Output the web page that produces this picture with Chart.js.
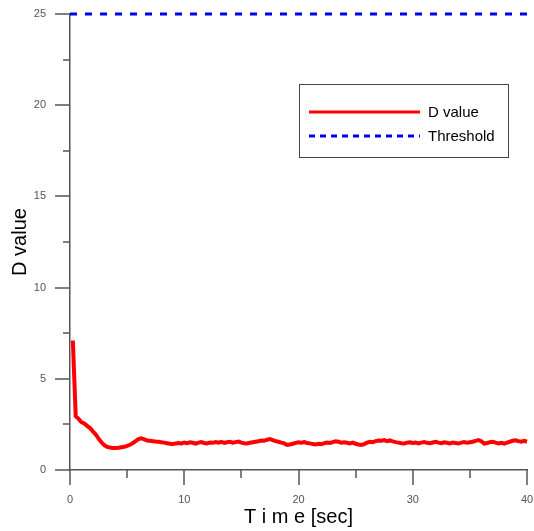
<!DOCTYPE html>
<html>
<head>
<meta charset="utf-8">
<script src="https://cdn.jsdelivr.net/npm/chart.js@4.4.1/dist/chart.umd.min.js"></script>
<style>
  body { margin: 0; background: #fff; }
</style>
</head>
<body>
<canvas id="dChart" width="534" height="531"></canvas>
<script>
// sampled every 0.25 s, first sample at 0.25 s
var startTime = 0.25;
var sampleStep = 0.25;
var dValue = [
  7.1, 2.95, 2.8, 2.62, 2.55, 2.42, 2.3, 2.12, 1.95, 1.72, 1.52,
  1.36, 1.27, 1.23, 1.2, 1.21, 1.22, 1.25, 1.27, 1.32, 1.38, 1.48,
  1.58, 1.7, 1.74, 1.68, 1.62, 1.6, 1.58, 1.56, 1.55, 1.52, 1.5,
  1.47, 1.44,
  1.42, 1.45, 1.48, 1.46,
  1.50, 1.47, 1.52, 1.49,
  1.45, 1.50, 1.53, 1.48,
  1.46, 1.51, 1.49, 1.53,
  1.50, 1.54, 1.49, 1.52,
  1.55, 1.50, 1.53, 1.56,
  1.50, 1.47, 1.45, 1.49,
  1.52, 1.55, 1.58, 1.62,
  1.60, 1.66, 1.70, 1.64,
  1.58, 1.55, 1.50, 1.46,
  1.38, 1.40, 1.44, 1.49,
  1.52, 1.50, 1.53, 1.48,
  1.46, 1.42, 1.40, 1.44,
  1.41, 1.47, 1.50, 1.48,
  1.53, 1.57, 1.55, 1.50,
  1.52, 1.49, 1.46, 1.50,
  1.44, 1.40, 1.37, 1.42,
  1.50, 1.55, 1.52, 1.58,
  1.62, 1.60, 1.64, 1.58,
  1.62, 1.57, 1.53, 1.50,
  1.47, 1.45, 1.50, 1.52,
  1.48, 1.51, 1.46, 1.50,
  1.53, 1.49, 1.47, 1.51,
  1.55, 1.50, 1.47, 1.52,
  1.49, 1.46, 1.50, 1.48,
  1.45, 1.50, 1.53, 1.49,
  1.52, 1.55, 1.60, 1.64,
  1.58, 1.45, 1.48, 1.52,
  1.55, 1.50, 1.46, 1.49,
  1.45, 1.50, 1.55, 1.60,
  1.63, 1.58, 1.55, 1.60,
  1.55
];
var thresholdValue = 25;
var timeRange = [0, 40];
var yRange = [0, 25];
var seriesNames = ["D value", "Threshold"];

var dPoints = dValue.map(function (v, i) {
  return { x: startTime + i * sampleStep, y: v };
});
var thresholdPoints = [
  { x: timeRange[0], y: thresholdValue },
  { x: timeRange[1], y: thresholdValue }
];

var axisColor = "#555";
var font = "'Liberation Sans', Arial, sans-serif";

// keep the plot area where the reference has it
function noOverflow(s) {
  s.paddingTop = 0;
  s.paddingBottom = 0;
  s.paddingLeft = 0;
  s.paddingRight = 0;
}

// major + minor tick marks drawn outside the axes
var tickMarks = {
  id: "tickMarks",
  afterDraw: function (chart) {
    var c = chart.ctx, xs = chart.scales.x, ys = chart.scales.y;
    c.save();
    c.strokeStyle = axisColor;
    c.lineWidth = 1.5;
    c.beginPath();
    for (var v = yRange[0]; v <= yRange[1]; v += 2.5) {
      var py = Math.round(ys.getPixelForValue(v));
      var len = v % 5 === 0 ? 15 : 7;
      c.moveTo(xs.left - len, py);
      c.lineTo(xs.left, py);
    }
    for (var t = timeRange[0]; t <= timeRange[1]; t += 5) {
      var px = Math.round(xs.getPixelForValue(t));
      var l2 = t % 10 === 0 ? 15 : 8;
      c.moveTo(px, ys.bottom);
      c.lineTo(px, ys.bottom + l2);
    }
    c.stroke();
    c.restore();
  }
};

// boxed legend inside the plot
var boxLegend = {
  id: "boxLegend",
  afterDraw: function (chart) {
    var c = chart.ctx;
    c.save();
    c.strokeStyle = "#444";
    c.lineWidth = 1;
    c.strokeRect(299.5, 84.5, 209, 73);
    var rows = [112, 136];
    chart.data.datasets.forEach(function (ds, i) {
      c.beginPath();
      c.strokeStyle = ds.borderColor;
      c.lineWidth = 3;
      c.setLineDash(ds.borderDash ? [6, 5] : []);
      c.moveTo(309, rows[i]);
      c.lineTo(420, rows[i]);
      c.stroke();
      c.setLineDash([]);
      c.fillStyle = "#000";
      c.font = "15px " + font;
      c.textBaseline = "middle";
      c.fillText(ds.label, 428, rows[i] + 1);
    });
    c.restore();
  }
};

new Chart(document.getElementById("dChart").getContext("2d"), {
  type: "line",
  data: {
    datasets: [
      {
        label: seriesNames[0],
        data: dPoints,
        borderColor: "rgb(255,0,0)",
        borderWidth: 4,
        pointRadius: 0,
        tension: 0,
        clip: false
      },
      {
        label: seriesNames[1],
        data: thresholdPoints,
        borderColor: "rgb(0,0,235)",
        borderWidth: 3,
        borderDash: [7, 8],
        pointRadius: 0,
        clip: false
      }
    ]
  },
  options: {
    responsive: false,
    animation: false,
    layout: { padding: { top: 14, right: 7, left: 0, bottom: 0 } },
    plugins: { legend: { display: false }, tooltip: { enabled: false } },
    scales: {
      x: {
        type: "linear",
        min: timeRange[0],
        max: timeRange[1],
        afterFit: function (s) { s.height = 61; noOverflow(s); },
        grid: { display: false, drawTicks: false },
        border: { display: true, color: axisColor, width: 1.5 },
        ticks: {
          stepSize: 10,
          padding: 23,
          color: "#555",
          font: { family: font, size: 11 }
        },
        title: {
          display: true,
          text: "T i m e [sec]",
          color: "#000",
          font: { family: font, size: 20 },
          padding: { top: 0, bottom: 2 }
        }
      },
      y: {
        min: yRange[0],
        max: yRange[1],
        afterFit: function (s) { s.width = 70; noOverflow(s); },
        grid: { display: false, drawTicks: false },
        border: { display: true, color: axisColor, width: 1.5 },
        ticks: {
          stepSize: 5,
          padding: 24,
          color: "#555",
          font: { family: font, size: 11 }
        },
        title: {
          display: true,
          text: "D value",
          color: "#000",
          font: { family: font, size: 20 },
          padding: { top: 8, bottom: 0 }
        }
      }
    }
  },
  plugins: [tickMarks, boxLegend]
});
</script>
</body>
</html>
